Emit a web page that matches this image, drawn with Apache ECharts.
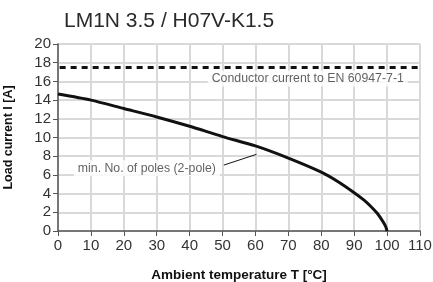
<!DOCTYPE html>
<html>
<head>
<meta charset="UTF-8">
<title>LM1N 3.5 / H07V-K1.5</title>
<script src="https://cdn.jsdelivr.net/npm/echarts@6/dist/echarts.min.js"></script>
<style>
  html, body { margin: 0; padding: 0; background: #fff; }
  #chart { width: 433px; height: 282px; }
</style>
</head>
<body>
<div id="chart"></div>
<script>
// derating curve
const temps = [0, 10, 20, 30, 40, 50, 60, 70, 80, 85, 90, 93, 95, 97, 98, 99, 99.6, 100];
const loadCurrent = [14.65, 14.0, 13.1, 12.2, 11.2, 10.1, 9.1, 7.8, 6.3, 5.3, 4.1, 3.3, 2.65, 1.9, 1.4, 0.85, 0.45, 0];
const conductorLimit = 17.5;
const xTicks = [0, 110, 10];   // min, max, step
const yTicks = [0, 20, 2];

const font = 'Liberation Sans, Arial, sans-serif';

const chart = echarts.init(document.getElementById('chart'));
chart.setOption({
  animation: false,
  title: {
    text: 'LM1N 3.5 / H07V-K1.5',
    left: 59, top: 6,
    textStyle: { fontFamily: font, fontSize: 21, fontWeight: 'normal', color: '#2a2a2a' }
  },
  grid: { left: 58, right: 13, top: 44, bottom: 51, containLabel: false, outerBoundsMode: 'none' },
  xAxis: {
    type: 'value', min: xTicks[0], max: xTicks[1], interval: xTicks[2],
    name: 'Ambient temperature T [°C]', nameLocation: 'middle', nameGap: 37,
    nameTextStyle: { fontFamily: font, fontSize: 13.5, fontWeight: 'bold', color: '#111' },
    axisLine: { lineStyle: { color: '#555', width: 1.5 } },
    axisTick: { length: 5, lineStyle: { color: '#555' } },
    axisLabel: { fontFamily: font, fontSize: 15, color: '#333', margin: 7 },
    splitLine: { lineStyle: { color: '#d9d9d9', width: 2 } }
  },
  yAxis: {
    type: 'value', min: yTicks[0], max: yTicks[1], interval: yTicks[2],
    name: 'Load current I [A]', nameLocation: 'middle', nameGap: 43,
    nameTextStyle: { fontFamily: font, fontSize: 12.5, fontWeight: 'bold', color: '#111' },
    axisLine: { show: true, lineStyle: { color: '#555', width: 1.5 } },
    axisTick: { show: true, length: 5, lineStyle: { color: '#555' } },
    axisLabel: { fontFamily: font, fontSize: 15, color: '#333', margin: 7 },
    splitLine: { lineStyle: { color: '#d9d9d9', width: 2 } }
  },
  graphic: [{
    // right border of the plot
    type: 'line', shape: { x1: 420, y1: 44, x2: 420, y2: 231 },
    style: { stroke: '#999', lineWidth: 2 }
  }],
  series: [
    {
      type: 'line', data: temps.map((t, i) => [t, loadCurrent[i]]),
      smooth: 0.25, symbol: 'none',
      lineStyle: { color: '#111', width: 3 }
    },
    {
      type: 'line', data: [[0.5, conductorLimit], [110, conductorLimit]],
      symbol: 'none',
      lineStyle: { color: '#111', width: 3, type: [6, 5] }
    },
    {
      // leader for the curve label
      type: 'line', data: [[50.4, 7.05], [60.3, 8.2]], symbol: 'none',
      lineStyle: { color: '#111', width: 1 }
    },
    {
      type: 'scatter', symbolSize: 0,
      data: [
        { value: [75.9, 16.3], name: 'Conductor current to EN 60947-7-1' },
        { value: [27, 6.7], name: 'min. No. of poles (2-pole)' }
      ],
      label: {
        show: true, position: 'inside', formatter: '{b}',
        fontFamily: font, fontSize: 12.3, color: '#3a3a3a',
        backgroundColor: '#fff', padding: [2, 4]
      },
      z: 5
    }
  ]
});
</script>
</body>
</html>
